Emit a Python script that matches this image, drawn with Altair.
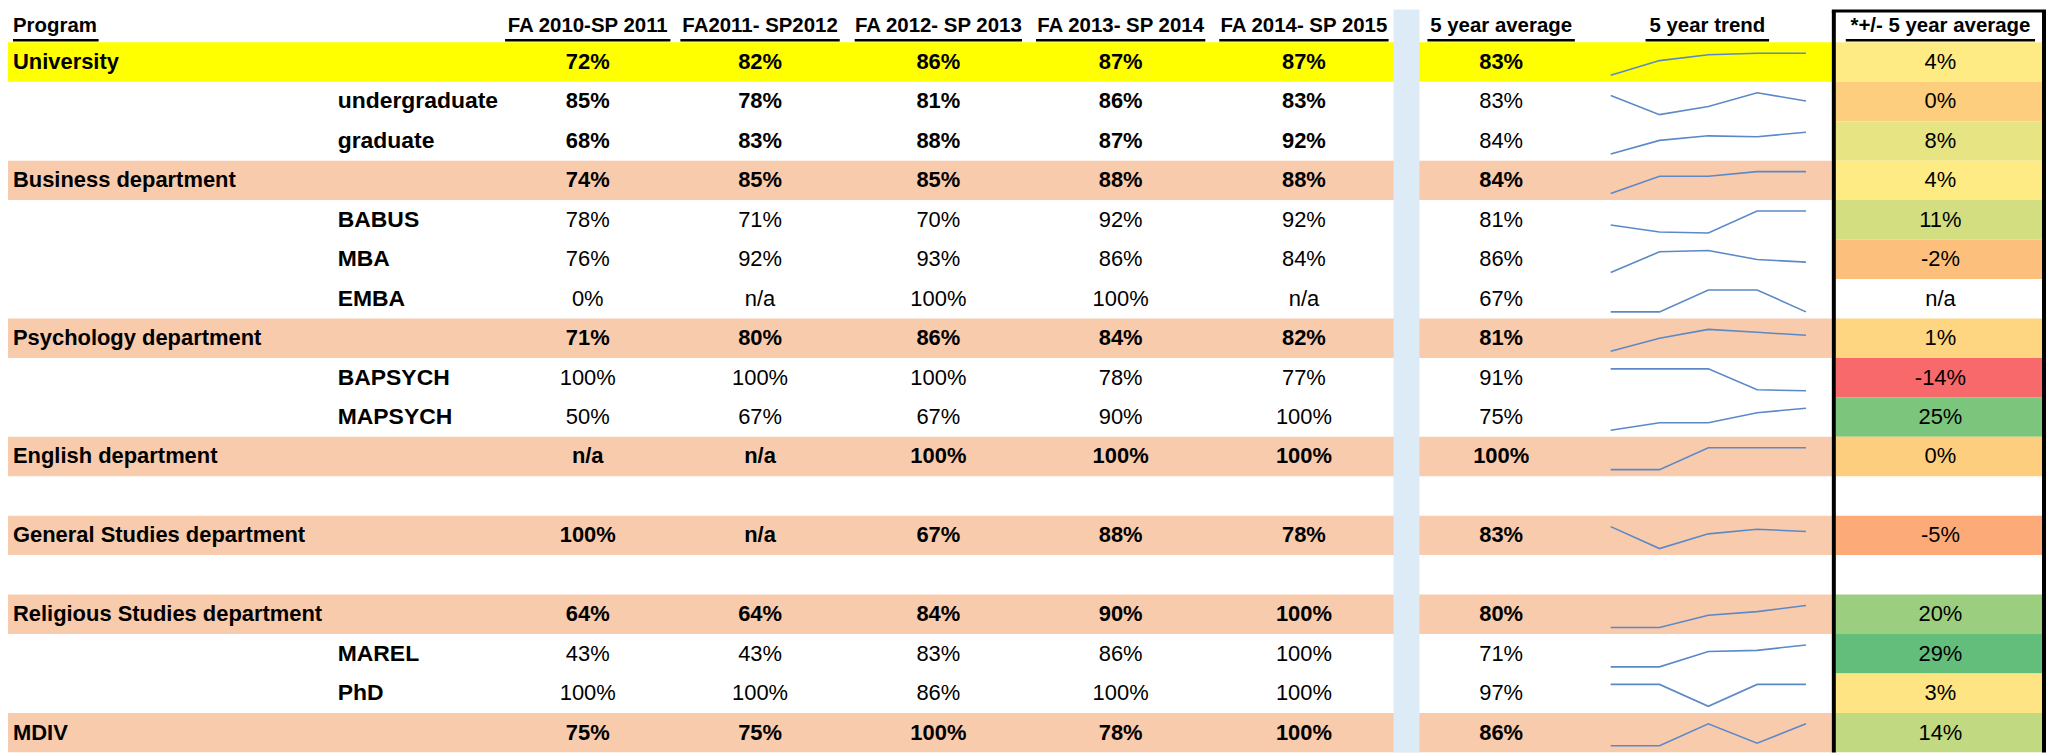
import altair as alt
import pandas as pd

# ---------------- data ----------------
programs = ["University", "undergraduate", "graduate", "Business department", "BABUS", "MBA", "EMBA",
            "Psychology department", "BAPSYCH", "MAPSYCH", "English department", "",
            "General Studies department", "", "Religious Studies department", "MAREL", "PhD", "MDIV"]
row_kind = ["top", "subtotal", "subtotal", "dept", "sub", "sub", "sub", "dept", "sub", "sub", "dept",
            "blank", "dept", "blank", "dept", "sub", "sub", "dept"]
periods = ["FA 2010-SP 2011", "FA2011- SP2012", "FA 2012- SP 2013", "FA 2013- SP 2014", "FA 2014- SP 2015"]
fa2010 = [72, 85, 68, 74, 78, 76, 0, 71, 100, 50, None, None, 100, None, 64, 43, 100, 75]
fa2011 = [82, 78, 83, 85, 71, 92, None, 80, 100, 67, None, None, None, None, 64, 43, 100, 75]
fa2012 = [86, 81, 88, 85, 70, 93, 100, 86, 100, 67, 100, None, 67, None, 84, 83, 86, 100]
fa2013 = [87, 86, 87, 88, 92, 86, 100, 84, 78, 90, 100, None, 88, None, 90, 86, 100, 78]
fa2014 = [87, 83, 92, 88, 92, 84, None, 82, 77, 100, 100, None, 78, None, 100, 100, 100, 100]
avg5 = [83, 83, 84, 84, 81, 86, 67, 81, 91, 75, 100, None, 83, None, 80, 71, 97, 86]
diff5 = [4, 0, 8, 4, 11, -2, None, 1, -14, 25, 0, None, -5, None, 20, 29, 3, 14]
headers = ["Program"] + periods + ["5 year average", "5 year trend", "*+/- 5 year average"]

# ---------------- layout / style ----------------
W, H = 2047, 746
TOP, RH = 33.0, 39.6
D0 = -TOP / RH - 0.5
D1 = (H - TOP) / RH - 0.5
FONT = "Liberation Sans, Arial, sans-serif"
FS = 22
FS_SUB = 23
FS_HDR = 20.5
NAME_X = {0: 5, 1: 331}
COL_X = [582, 755, 934, 1117, 1301]
AVG_X = 1499
DIFF_X = 1940
TREND_X = 1706
HEADER_X = [5] + COL_X + [AVG_X, TREND_X, DIFF_X]
HEADER_W = [86, 166, 160, 168, 170, 170, 148, 124, 190]
HEADER_Y = -0.904
ULINE_Y = -0.55
BAND_X0, BAND_X1 = 0, 1831
STRIPE_X0, STRIPE_X1 = 1391, 1417
BOX_L, BOX_R, BOX_T = 1833, 2044, D0 + 1.5 / RH
CELL_X0, CELL_X1 = 1835, 2042
SPARK_X0, SPARK_DX = 1609, 49
SPARK_TOP, SPARK_BOT = -0.5 + 11 / RH, -0.5 + 33 / RH
BAND_COL = {"top": "#FFFF00", "dept": "#F8CBAD"}
SPARK_COL = "#5b89c8"

xs = alt.Scale(domain=[0, W], range=[0, W], nice=False, zero=False)
ys = alt.Scale(domain=[D0, D1], range=[0, H], nice=False, zero=False)


def X(f):
    return alt.X(f, type="quantitative", scale=xs, axis=None)


def Y(f):
    return alt.Y(f, type="quantitative", scale=ys, axis=None)


def pct(v):
    return "n/a" if v is None else f"{v}%"


years = list(zip(fa2010, fa2011, fa2012, fa2013, fa2014))

# row bands
bands = pd.DataFrame([
    {"r0": i - 0.5, "r1": i + 0.5, "x0": BAND_X0, "x1": BAND_X1, "fill": BAND_COL[k]}
    for i, k in enumerate(row_kind) if k in BAND_COL
])
band_layer = alt.Chart(bands).mark_rect().encode(
    x=X("x0"), x2="x1", y=Y("r0"), y2="r1", color=alt.Color("fill:N", scale=None))

# +/- cells with 3-colour scale (min / median / max)
vals = sorted(v for v in diff5 if v is not None)
dmin, dmed, dmax = vals[0], vals[len(vals) // 2], vals[-1]
cells = pd.DataFrame([
    {"r0": i - 0.5, "r1": i + 0.5, "x0": CELL_X0, "x1": CELL_X1, "diff": d}
    for i, d in enumerate(diff5) if d is not None
])
cell_layer = alt.Chart(cells).mark_rect().encode(
    x=X("x0"), x2="x1", y=Y("r0"), y2="r1",
    color=alt.Color("diff:Q", legend=None,
                    scale=alt.Scale(domain=[dmin, dmed, dmax],
                                    range=["#F8696B", "#FFEB84", "#63BE7B"], interpolate="rgb")))

# light-blue separator stripe
stripe = alt.Chart(pd.DataFrame({"x0": [STRIPE_X0], "x1": [STRIPE_X1], "r0": [D0], "r1": [D1]})).mark_rect(
    color="#DDEBF7").encode(x=X("x0"), x2="x1", y=Y("r0"), y2="r1")

# black box around last column
vbox = alt.Chart(pd.DataFrame({"x": [BOX_L, BOX_R], "r0": [BOX_T, BOX_T], "r1": [D1, D1]})).mark_rule(
    color="black", strokeWidth=4).encode(x=X("x"), y=Y("r0"), y2="r1")
hbox = alt.Chart(pd.DataFrame({"x0": [BOX_L - 2], "x1": [BOX_R + 2], "r": [BOX_T]})).mark_rule(
    color="black", strokeWidth=3).encode(x=X("x0"), x2="x1", y=Y("r"))

# headers
hdr = pd.DataFrame({"label": headers, "x": HEADER_X, "w": HEADER_W, "r": HEADER_Y})
hdr["u0"] = [x if i == 0 else x - w / 2 for i, (x, w) in enumerate(zip(hdr.x, hdr.w))]
hdr["u1"] = hdr["u0"] + hdr["w"]
hdr["ru"] = ULINE_Y
hdr_left = alt.Chart(hdr.iloc[:1]).mark_text(
    align="left", baseline="middle", font=FONT, fontSize=FS_HDR, fontWeight="bold", color="black").encode(
    x=X("x"), y=Y("r"), text="label:N")
hdr_center = alt.Chart(hdr.iloc[1:]).mark_text(
    align="center", baseline="middle", font=FONT, fontSize=FS_HDR, fontWeight="bold", color="black").encode(
    x=X("x"), y=Y("r"), text="label:N")
uline = alt.Chart(hdr).mark_rule(color="black", strokeWidth=2.5).encode(x=X("u0"), x2="u1", y=Y("ru"))

# program names
names = pd.DataFrame([
    {"label": p, "r": i, "lvl": 0 if k in ("top", "dept") else 1}
    for i, (p, k) in enumerate(zip(programs, row_kind)) if k != "blank"
])
names["x"] = names["lvl"].map(NAME_X)
name_top = alt.Chart(names[names.lvl == 0]).mark_text(
    align="left", baseline="middle", font=FONT, fontSize=FS, fontWeight="bold", color="black").encode(
    x=X("x"), y=Y("r"), text="label:N")
name_sub = alt.Chart(names[names.lvl == 1]).mark_text(
    align="left", baseline="middle", font=FONT, fontSize=FS_SUB, fontWeight="bold", color="black").encode(
    x=X("x"), y=Y("r"), text="label:N")

# value cells
cells_txt = []
for i, k in enumerate(row_kind):
    if k == "blank":
        continue
    for j, v in enumerate(years[i]):
        cells_txt.append({"label": pct(v), "r": i, "x": COL_X[j], "bold": k != "sub"})
    cells_txt.append({"label": pct(avg5[i]), "r": i, "x": AVG_X, "bold": k in ("top", "dept")})
    cells_txt.append({"label": pct(diff5[i]), "r": i, "x": DIFF_X, "bold": False})
cells_txt = pd.DataFrame(cells_txt)
val_bold = alt.Chart(cells_txt[cells_txt.bold]).mark_text(
    align="center", baseline="middle", font=FONT, fontSize=FS, fontWeight="bold", color="black").encode(
    x=X("x"), y=Y("r"), text="label:N")
val_reg = alt.Chart(cells_txt[~cells_txt.bold]).mark_text(
    align="center", baseline="middle", font=FONT, fontSize=FS, fontWeight="normal", color="black").encode(
    x=X("x"), y=Y("r"), text="label:N")

# sparklines (n/a plotted as 0, each line scaled to its own min-max)
spark = []
for i, k in enumerate(row_kind):
    if k == "blank":
        continue
    v = [0 if a is None else a for a in years[i]]
    lo, hi = min(v), max(v)
    for j, a in enumerate(v):
        t = 0.5 if hi == lo else (a - lo) / (hi - lo)
        spark.append({"row": i, "k": j, "x": SPARK_X0 + j * SPARK_DX,
                      "r": i + SPARK_BOT - t * (SPARK_BOT - SPARK_TOP)})
spark = pd.DataFrame(spark)
spark_layer = alt.Chart(spark).mark_line(color=SPARK_COL, strokeWidth=1.6).encode(
    x=X("x"), y=Y("r"), detail="row:N", order="k:Q")

chart = alt.layer(
    band_layer, cell_layer, stripe, vbox, hbox, uline, hdr_left, hdr_center,
    name_top, name_sub, val_bold, val_reg, spark_layer
).properties(
    width=W, height=H, padding=0, autosize=alt.AutoSizeParams(type="none")
).configure_view(stroke=None)

chart.save("out.html", embed_options={"renderer": "svg", "actions": False})
